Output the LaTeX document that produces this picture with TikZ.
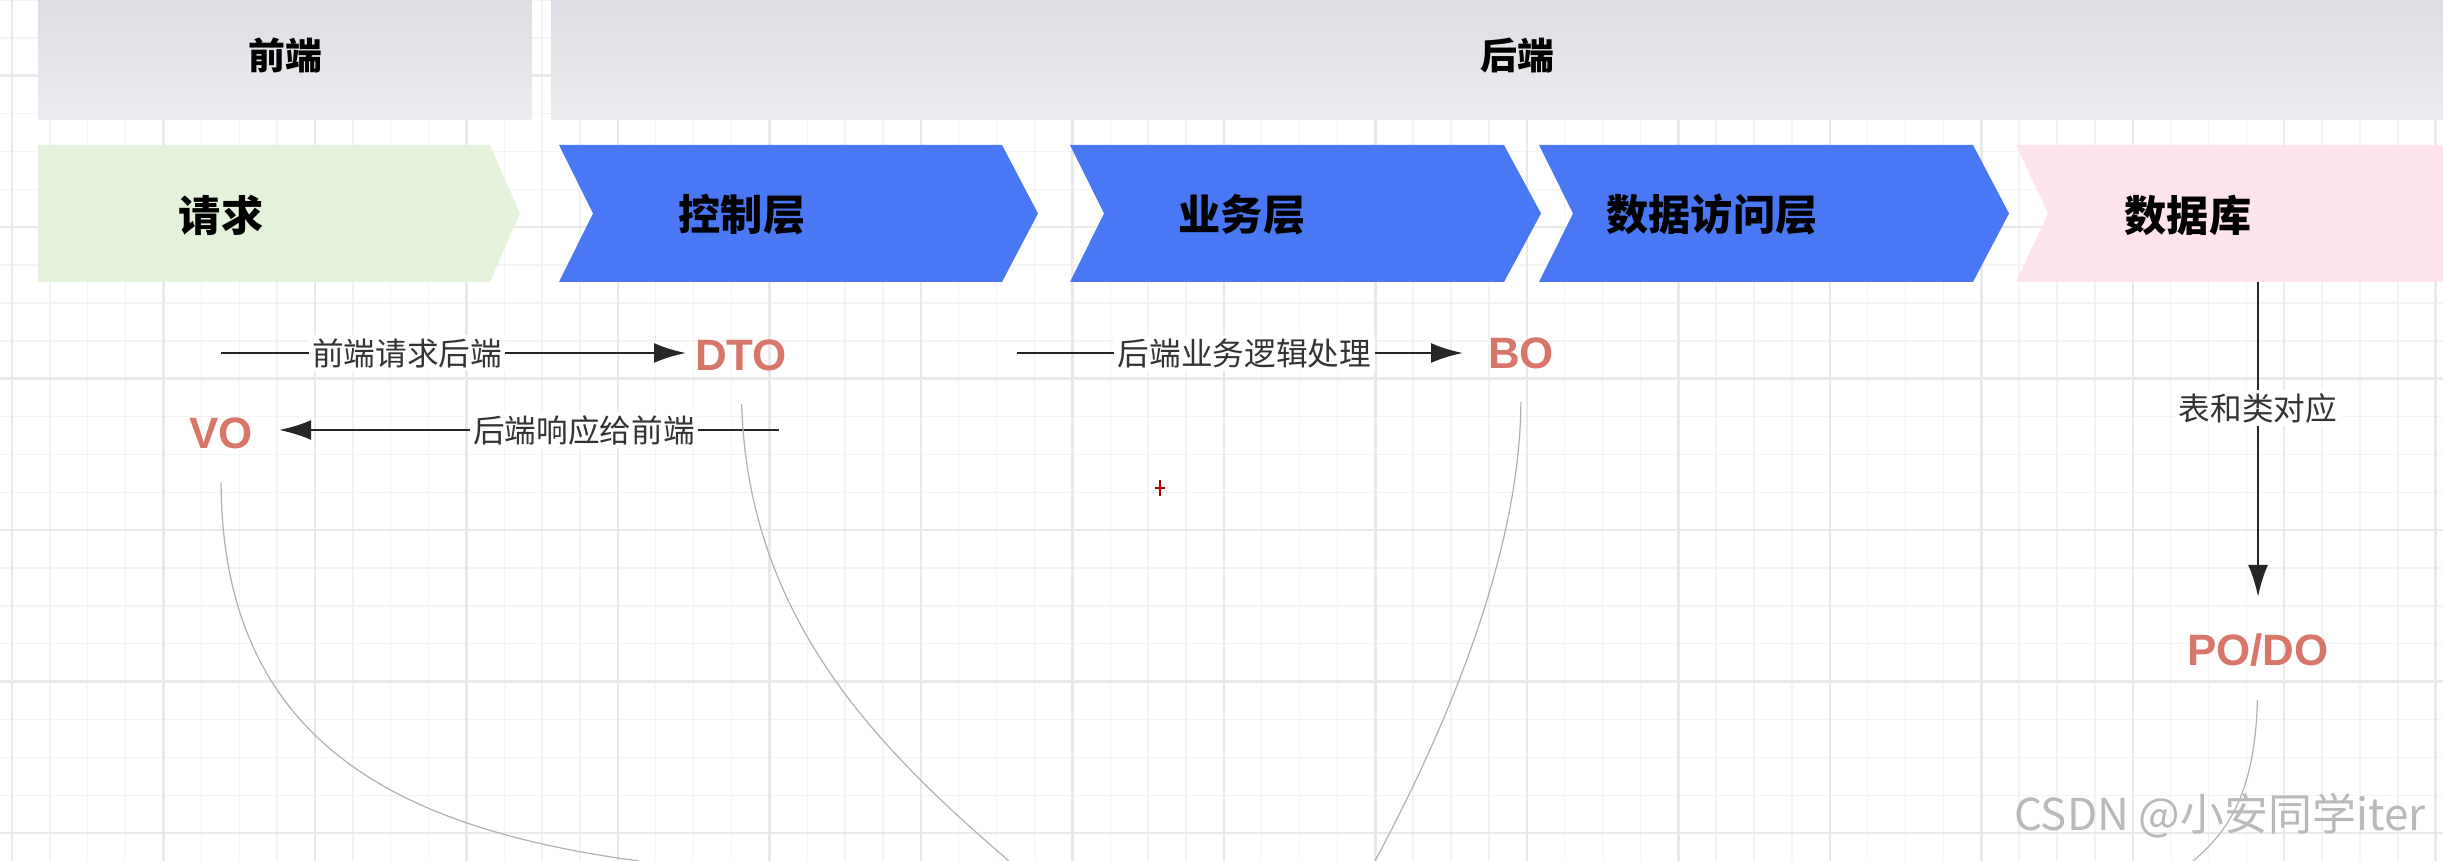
\documentclass[tikz,border=0pt]{standalone}
\usepackage{fontspec}
\setmainfont{Liberation Sans}
\newfontfamily\cjk{Noto Sans CJK SC}
\usetikzlibrary{arrows.meta}

\definecolor{layerblue}{RGB}{74,120,245}
\definecolor{reqgreen}{RGB}{229,242,219}
\definecolor{dbpink}{RGB}{252,227,238}
\definecolor{objred}{RGB}{216,118,106}
\definecolor{headtop}{RGB}{220,221,226}
\definecolor{headbot}{RGB}{236,237,240}
\definecolor{gridminor}{RGB}{243,243,243}
\definecolor{gridmajor}{RGB}{233,233,233}

\begin{document}
\begin{tikzpicture}[
    layer/.style={font=\cjk\bfseries\fontsize{12}{14}\selectfont, text=black},
    head/.style={font=\cjk\bfseries\fontsize{10.5}{12}\selectfont, text=black},
    obj/.style={font=\bfseries\fontsize{12.5}{14}\selectfont, text=objred, inner sep=0.1cm},
    lbl/.style={fill=white, inner sep=1pt, font=\cjk\fontsize{9}{10}\selectfont, text=black!80},
    line/.style={draw, -{Latex[length=0.32cm,width=0.2cm]}, line width=0.8pt, black!85},
    link/.style={draw, gray!60, line width=0.35pt, shorten <=0.23cm}
]
\useasboundingbox (0,0) rectangle (24.43,-8.61);
\clip (0,0) rectangle (24.43,-8.61);

% background grid
\draw[gridminor, line width=0.4pt, step=0.3787, xshift=0.12cm] (-1,1) grid (25,-9);
\draw[gridmajor, line width=0.7pt, step=1.5148, xshift=0.12cm, yshift=-0.757cm] (-2,2) grid (26,-10);

% header bands
\shade[top color=headtop, bottom color=headbot] (0.38,0) rectangle (5.32,-1.20);
\shade[top color=headtop, bottom color=headbot] (5.51,0) rectangle (24.43,-1.20);
\node[head] (fe) at (2.85,-0.56) {前端};
\node[head] (be) at (15.17,-0.56) {后端};

% layer chevrons
\fill[reqgreen] (0.38,-1.45) -- (4.90,-1.45) -- (5.20,-2.135) -- (4.90,-2.82) -- (0.38,-2.82) -- cycle;
\fill[layerblue] (5.59,-1.45) -- (10.02,-1.45) -- (10.38,-2.135) -- (10.02,-2.82) -- (5.59,-2.82) -- (5.93,-2.135) -- cycle;
\fill[layerblue] (10.70,-1.45) -- (15.04,-1.45) -- (15.41,-2.135) -- (15.04,-2.82) -- (10.70,-2.82) -- (11.04,-2.135) -- cycle;
\fill[layerblue] (15.39,-1.45) -- (19.73,-1.45) -- (20.09,-2.135) -- (19.73,-2.82) -- (15.39,-2.82) -- (15.73,-2.135) -- cycle;
\fill[dbpink] (20.16,-1.45) -- (24.50,-1.45) -- (24.50,-2.82) -- (20.16,-2.82) -- (20.48,-2.135) -- cycle;

\node[layer] (req) at (2.21,-2.15) {请求};
\node[layer] (ctrl) at (7.42,-2.15) {控制层};
\node[layer] (biz) at (12.42,-2.15) {业务层};
\node[layer] (dao) at (17.12,-2.15) {数据访问层};
\node[layer] (db) at (21.88,-2.15) {数据库};

% data objects
\node[obj] (dto) at (7.41,-3.55) {DTO};
\node[obj] (vo) at (2.21,-4.33) {VO};
\node[obj] (bo) at (15.21,-3.53) {BO};
\node[obj] (podo) at (22.58,-6.50) {PO/DO};

\coordinate (reqstart) at (2.21,-3.53);
\coordinate (respstart) at (7.79,-4.30);
\coordinate (bizstart) at (10.17,-3.53);
\coordinate (dbbottom) at (22.58,-2.82);

\path[line] (reqstart) -- node[lbl, pos=0.40] {前端请求后端} (6.86,-3.53);
\path[line] (respstart) -- node[lbl, pos=0.39] {后端响应给前端} (2.79,-4.30);
\path[line] (bizstart) -- node[lbl, pos=0.51] {后端业务逻辑处理} (14.63,-3.53);
\path[line] (dbbottom) -- node[lbl, pos=0.40] {表和类对应} (22.58,-5.97);

% links running off the bottom
\coordinate (voend) at (6.39,-8.61);
\coordinate (dtoend) at (10.09,-8.61);
\coordinate (boend) at (13.75,-8.61);
\coordinate (podoend) at (21.93,-8.61);
\path[link] (vo.south) .. controls (2.22,-7.50) and (4.10,-8.30) .. (voend);
\path[link] (dto.south) .. controls (7.48,-6.20) and (8.80,-7.50) .. (dtoend);
\path[link] (bo.south) .. controls (15.20,-5.60) and (14.40,-7.40) .. (boend);
\path[link] (podo.south) .. controls (22.55,-7.90) and (22.30,-8.30) .. (podoend);

% cursor mark
\draw[red!70!black, line width=0.6pt] (11.60,-4.80) -- (11.60,-4.96) (11.55,-4.88) -- (11.65,-4.88);

% watermark
\node[anchor=east, text=gray!55, font=\cjk\fontsize{12.5}{15}\selectfont] (mark) at (24.38,-8.16) {CSDN @小安同学iter};
\end{tikzpicture}
\end{document}
